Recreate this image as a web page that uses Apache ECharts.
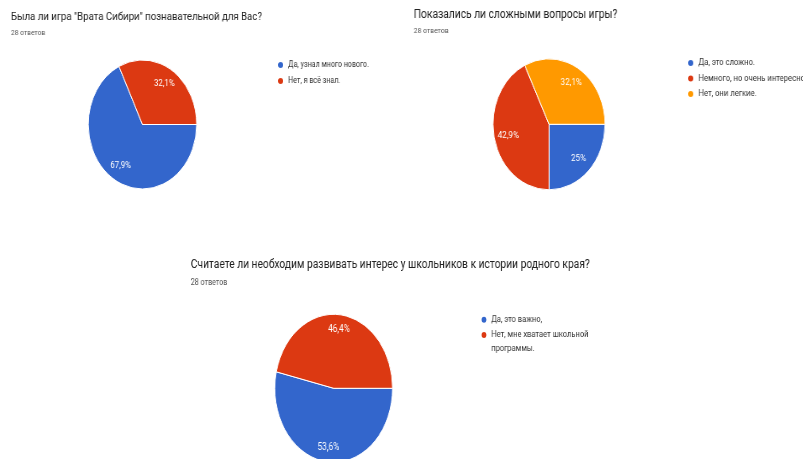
<!DOCTYPE html>
<html>
<head>
<meta charset="utf-8">
<script src="https://cdn.jsdelivr.net/npm/echarts@6/dist/echarts.min.js"></script>
<style>
  html, body { margin: 0; padding: 0; width: 803px; height: 459px; overflow: hidden; background: #fff; }
  .panel { position: absolute; transform-origin: 0 0; }
  #chartA { left: 0; top: 0; width: 476px; height: 230px; transform: scaleX(0.84); }
  #chartB { left: 400px; top: 0; width: 471px; height: 230px; transform: scaleX(0.855); }
  #chartC { left: 180px; top: 240px; width: 784px; height: 230px; transform: scaleX(0.795); }
</style>
</head>
<body>
<div id="chartA" class="panel"></div>
<div id="chartB" class="panel"></div>
<div id="chartC" class="panel"></div>
<script>
  // google forms palette
  const colors = ['#3366cc', '#dc3912', '#ff9900'];
  const answersText = '28 ответов';

  const titleA = 'Была ли игра "Врата Сибири" познавательной для Вас?';
  const namesA = ['Да, узнал много нового.', 'Нет, я всё знал.'];
  const valuesA = [19, 9];

  const titleB = 'Показались ли сложными вопросы игры?';
  const namesB = ['Да, это сложно.', 'Немного, но очень интересно', 'Нет, они легкие.'];
  const valuesB = [7, 12, 9];

  const titleC = 'Считаете ли необходим развивать интерес у школьников к истории родного края?';
  const namesC = ['Да, это важно,', 'Нет, мне хватает школьной программы.'];
  const valuesC = [15, 13];
  // leading empty line keeps the first text line level with the dot (text block is centred on it)
  const wrapC = { 'Нет, мне хватает школьной программы.': '\nНет, мне хватает школьной\nпрограммы.' };

  const font = 'Roboto';

  function buildOption(cfg) {
    const data = cfg.names.map((name, i) => ({ name, value: cfg.values[i] }));
    return {
      color: colors,
      animation: false,
      title: [
        {
          text: cfg.title,
          left: cfg.left,
          top: cfg.titleTop,
          padding: 0,
          textStyle: { fontFamily: font, fontSize: cfg.titleSize, fontWeight: 'normal', color: '#222' },
        },
        {
          text: answersText,
          left: cfg.left,
          top: cfg.subTop,
          padding: 0,
          textStyle: { fontFamily: font, fontSize: cfg.subSize, fontWeight: 'normal', color: '#555' },
        },
      ],
      legend: {
        orient: 'vertical',
        left: cfg.legendLeft,
        top: cfg.legendTop,
        padding: 0,
        icon: 'circle',
        itemWidth: 8,
        itemHeight: 8,
        itemGap: cfg.legendGap,
        selectedMode: false,
        data: cfg.names,
        formatter: cfg.legendFormatter,
        textStyle: {
          fontFamily: font,
          fontSize: cfg.legendSize,
          color: '#333',
          lineHeight: cfg.legendLineHeight,
        },
      },
      series: [
        {
          type: 'pie',
          center: cfg.center,
          radius: cfg.r,
          startAngle: 0,
          clockwise: true,
          data: data,
          label: { show: false },
          labelLine: { show: false },
          itemStyle: { borderColor: '#fff', borderWidth: 1 },
          emphasis: { disabled: true },
        },
        {
          // label carrier: mid radius lands where google puts the percentages
          type: 'pie',
          center: cfg.center,
          radius: cfg.r * 2 * cfg.labelRatio,
          startAngle: 0,
          clockwise: true,
          silent: true,
          legendHoverLink: false,
          percentPrecision: 1,
          data: data,
          itemStyle: { color: 'transparent', borderWidth: 0 },
          label: {
            show: true,
            position: 'inside',
            color: '#fff',
            fontFamily: font,
            fontSize: cfg.labelSize,
            formatter: (p) => String(p.percent).replace('.', ',') + '%',
          },
          labelLine: { show: false },
          emphasis: { disabled: true },
        },
      ],
    };
  }

  const chartA = echarts.init(document.getElementById('chartA'));
  chartA.setOption(buildOption({
    title: titleA, names: namesA, values: valuesA,
    left: 13, titleTop: 11, titleSize: 11.5, subTop: 29, subSize: 8,
    legendLeft: 329, legendTop: 60, legendGap: 6, legendSize: 8.5,
    center: [169.6, 124.5], r: 64.5, labelRatio: 0.71, labelSize: 9.5,
  }));

  const chartB = echarts.init(document.getElementById('chartB'));
  chartB.setOption(buildOption({
    title: titleB, names: namesB, values: valuesB,
    left: 16, titleTop: 9, titleSize: 12, subTop: 27, subSize: 8,
    legendLeft: 335, legendTop: 58, legendGap: 5.5, legendSize: 9,
    center: [174.3, 124.3], r: 65.5, labelRatio: 0.70, labelSize: 9.5,
  }));

  const chartC = echarts.init(document.getElementById('chartC'));
  chartC.setOption(buildOption({
    title: titleC, names: namesC, values: valuesC,
    left: 13.5, titleTop: 18.5, titleSize: 12.9, subTop: 38.5, subSize: 9,
    legendLeft: 377.4, legendTop: 73, legendGap: -11.5, legendSize: 9.5, legendLineHeight: 13.4,
    legendFormatter: (name) => wrapC[name] || name,
    center: [193.3, 148.3], r: 74, labelRatio: 0.76, labelSize: 10.5,
  }));
</script>
</body>
</html>
